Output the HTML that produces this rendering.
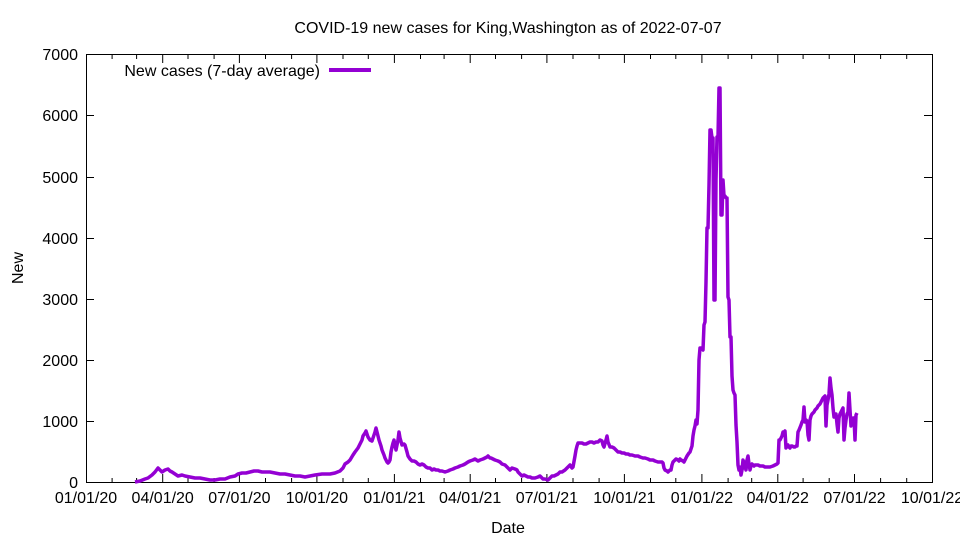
<!DOCTYPE html>
<html><head><meta charset="utf-8"><style>
html,body{margin:0;padding:0;background:#fff}
svg text{font-family:"Liberation Sans",sans-serif;font-size:16px;fill:#000}
</style></head><body>
<svg width="960" height="540" xmlns="http://www.w3.org/2000/svg">
<rect width="960" height="540" fill="#fff"/>
<text x="508" y="33" text-anchor="middle">COVID-19 new cases for King,Washington as of 2022-07-07</text>
<g stroke="#000" stroke-width="1" fill="none">
<rect x="86.5" y="54.5" width="846" height="428"/>
<path d="M86 482.5h8M86 421.5h8M86 360.5h8M86 299.5h8M86 238.5h8M86 177.5h8M86 115.5h8
M932 482.5h-8M932 421.5h-8M932 360.5h-8M932 299.5h-8M932 238.5h-8M932 177.5h-8M932 115.5h-8"/>
<path d="M162.7 482v-8M239.4 482v-8M316.9 482v-8M394.4 482v-8M470.2 482v-8M546.9 482v-8M624.4 482v-8M701.9 482v-8M777.8 482v-8M854.5 482v-8
M162.7 55v8M239.4 55v8M316.9 55v8M394.4 55v8M470.2 55v8M546.9 55v8M624.4 55v8M701.9 55v8M777.8 55v8M854.5 55v8"/>
<path d="M112.1 482v-4M136.6 482v-4M188 482v-4M214.1 482v-4M265.5 482v-4M291.6 482v-4M343 482v-4M368.3 482v-4M420.5 482v-4M444.1 482v-4M495.5 482v-4M521.6 482v-4M573 482v-4M599.1 482v-4M650.5 482v-4M675.8 482v-4M728.1 482v-4M751.7 482v-4M803.1 482v-4M829.2 482v-4M880.6 482v-4M906.7 482v-4
M112.1 55v4M136.6 55v4M188 55v4M214.1 55v4M265.5 55v4M291.6 55v4M343 55v4M368.3 55v4M420.5 55v4M444.1 55v4M495.5 55v4M521.6 55v4M573 55v4M599.1 55v4M650.5 55v4M675.8 55v4M728.1 55v4M751.7 55v4M803.1 55v4M829.2 55v4M880.6 55v4M906.7 55v4"/>
</g>
<g text-anchor="end">
<text x="78" y="488">0</text><text x="78" y="427">1000</text><text x="78" y="366">2000</text><text x="78" y="305">3000</text><text x="78" y="244">4000</text><text x="78" y="183">5000</text><text x="78" y="121">6000</text><text x="78" y="60">7000</text>
</g>
<g text-anchor="middle">
<text x="86" y="503">01/01/20</text><text x="162.7" y="503">04/01/20</text><text x="239.4" y="503">07/01/20</text><text x="316.9" y="503">10/01/20</text><text x="394.4" y="503">01/01/21</text><text x="470.2" y="503">04/01/21</text><text x="546.9" y="503">07/01/21</text><text x="624.4" y="503">10/01/21</text><text x="701.9" y="503">01/01/22</text><text x="777.8" y="503">04/01/22</text><text x="854.5" y="503">07/01/22</text><text x="932" y="503">10/01/22</text>
<text x="508" y="533">Date</text>
</g>
<text transform="translate(23,268) rotate(-90)" text-anchor="middle">New</text>
<text x="320" y="76" text-anchor="end">New cases (7-day average)</text>
<path d="M329 70h42" stroke="#9400d3" stroke-width="4"/>
<polyline fill="none" stroke="#9400d3" stroke-width="3.5" stroke-linejoin="round" points="135,482 140,481 145,479 148,478 152,475 155,472 158,468 160,470 162,472 165,470 168,469 170,471 172,472 175,474 178,476 182,475 185,476 190,477 195,478 200,478 205,479 210,480 215,480 220,479 225,479 230,477 235,476 238,474 242,473 246,473 250,472 254,471 258,471 262,472 265,472 270,472 275,473 280,474 285,474 290,475 295,476 300,476 305,477 310,476 315,475 322,474 330,474 335,473 340,471 343,468 345,464 348,462 350,460 353,455 355,452 358,448 360,444 362,440 363,436 365,433 366,431 368,437 370,440 372,441 373,438 375,432 376,428 378,436 379,440 381,446 382,450 384,455 385,458 387,462 388,463 389,462 390,460 391,452 392,447 393,443 394,440 395,446 396,450 398,440 399,432 400,438 402,445 404,444 405,445 407,452 408,456 410,459 412,461 414,461 416,462 418,464 420,465 422,464 424,465 426,467 428,468 430,468 432,470 434,469 436,470 438,470 440,471 442,471 445,472 448,471 450,470 453,469 455,468 458,467 460,466 463,465 465,464 468,462 470,461 473,460 475,459 478,461 480,460 483,459 485,458 487,457 488,456 490,458 491,458 493,459 495,460 498,461 500,462 502,464 505,465 507,467 510,470 512,468 515,469 517,470 518,472 520,474 522,476 524,475 526,476 528,477 530,477 532,478 535,478 538,477 540,476 542,478 543,479 545,479 548,480 550,478 552,476 554,476 556,475 558,474 560,472 562,472 565,470 568,467 570,465 572,468 573,467 575,456 576,450 577,446 578,443 580,443 582,443 584,444 586,444 588,443 590,442 592,442 594,443 596,442 598,442 600,440 602,441 603,445 604,447 606,440 607,436 608,442 610,447 612,447 614,448 616,450 618,452 620,452 622,453 624,453 626,454 628,454 630,455 632,455 635,456 638,456 640,457 643,458 645,458 648,459 650,460 653,460 655,461 658,462 660,462 662,462 663,463 664,468 665,470 667,471 668,472 670,470 671,470 672,465 673,462 675,460 676,459 678,460 679,461 680,459 681,460 683,461 684,462 686,458 687,456 689,453 690,452 691,449 692,446 693,436 694,430 695,426 696,420 697,424 698,410 699,360 700,348 702,348 703,350 704,325 705,322 706,282 707,228 708,228 709,185 710,130 711,130 712,138 713,138 714,300 715,300 716,180 717,137 718,137 719,88 720,88 721,215 722,215 723,180 724,196 725,196 726,198 727,198 728,297 729,300 730,337 731,337 732,376 733,390 734,393 735,395 736,425 737,442 738,465 739,470 740,467 741,475 742,470 743,460 744,468 745,462 746,470 747,460 748,456 749,464 750,470 751,466 752,464 754,466 755,465 758,465 760,466 763,466 765,467 768,467 770,467 773,466 775,465 777,464 778,463 779,440 780,440 781,438 782,436 783,432 784,433 785,431 786,448 787,446 788,445 789,447 790,448 791,446 792,446 794,447 795,447 796,446 797,446 798,432 799,430 801,425 802,422 803,420 804,407 805,422 806,420 807,421 808,435 809,440 810,420 811,416 812,414 814,412 815,410 817,408 818,406 820,404 821,402 822,400 823,398 824,397 825,396 826,426 827,405 828,400 829,394 830,378 831,388 832,395 833,408 834,417 835,414 836,414 837,424 838,432 839,418 840,414 841,412 842,410 843,408 844,440 845,428 846,420 847,414 848,412 849,393 850,410 851,426 852,420 853,418 854,418 855,440 856,415 857,413"/>
</svg>
</body></html>
